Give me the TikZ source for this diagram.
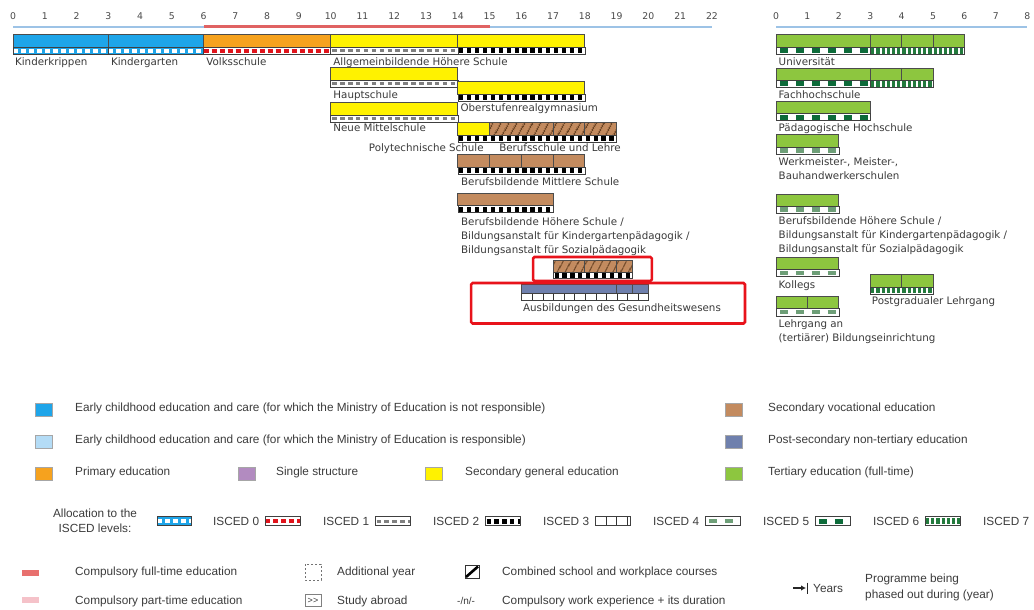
\documentclass[tikz,border=0pt]{standalone}
\usepackage{fontspec}
\setmainfont{Liberation Sans}
\newfontfamily\djv{DejaVu Sans}
\usetikzlibrary{patterns.meta,arrows.meta}
\definecolor{axblue}{HTML}{9DC3E6}
\definecolor{axred}{HTML}{E06262}
\definecolor{ecblue}{HTML}{1EA5E9}
\definecolor{eclight}{HTML}{B4DCF6}
\definecolor{prim}{HTML}{F6A21E}
\definecolor{purp}{HTML}{B28BC0}
\definecolor{ylw}{HTML}{FFF200}
\definecolor{brn}{HTML}{C38B5F}
\definecolor{hatchc}{HTML}{6B4424}
\definecolor{pst}{HTML}{6F80AD}
\definecolor{tert}{HTML}{8DC63F}
\definecolor{iscred}{HTML}{E0141C}
\definecolor{ifive}{HTML}{6E9F78}
\definecolor{isix}{HTML}{0D6B3A}
\definecolor{iseven}{HTML}{237A3D}
\definecolor{labc}{HTML}{3A3A3A}
\definecolor{legc}{HTML}{3C3C3C}
\definecolor{axc}{HTML}{4A4A4A}
\definecolor{boxred}{HTML}{E8131B}
\definecolor{cfull}{HTML}{E8706E}
\definecolor{cpart}{HTML}{F5C2C9}
\tikzset{
  barline/.style={draw=black!70, line width=0.75pt},
  sbord/.style={draw=black!75, line width=0.55pt},
  lab/.style={font=\djv\fontsize{10.3}{14}\selectfont, text=labc, inner sep=0pt, anchor=base west},
  mlab/.style={lab, align=left, anchor=north west},
  axn/.style={font=\djv\fontsize{9.3}{11}\selectfont, text=axc, inner sep=0pt},
  leg/.style={font=\fontsize{11.8}{15}\selectfont, text=legc, inner sep=0pt, anchor=west},
  legsq/.style={draw=black!35, line width=0.4pt, minimum width=17pt, minimum height=13pt, inner sep=0pt},
  redbox/.style={draw=boxred, line width=2.6pt, rounded corners=1.5pt},
}
% strip: x1 x2 y1 y2 bg fg linewidth dashkeys
\newcommand\ZStrip[8]{%
  \fill[#5] (#1,#3) rectangle (#2,#4);
  \begin{scope}\clip (#1,#3) rectangle (#2,#4);
  \draw[#6,line width=#7,#8] (#1,{(#3+#4)/2}) -- (#2,{(#3+#4)/2});\end{scope}
  \draw[sbord] (#1,#3) rectangle (#2,#4);}
\newcommand\ZisA[4]{\ZStrip{#1}{#2}{#3}{#4}{ecblue}{white}{3.8pt}{dash pattern=on 5pt off 3pt}}
\newcommand\ZisB[4]{\ZStrip{#1}{#2}{#3}{#4}{white}{iscred}{4pt}{dash pattern=on 5pt off 3pt}}
\newcommand\ZisC[4]{\ZStrip{#1}{#2}{#3}{#4}{white}{black!50}{3pt}{dash pattern=on 4.5pt off 3.4pt,dash phase=-1.5pt}}
\newcommand\ZisD[4]{\ZStrip{#1}{#2}{#3}{#4}{white}{black}{5pt}{dash pattern=on 4.2pt off 3.7pt,dash phase=-1.5pt}}
\newcommand\ZisE[4]{\ZStrip{#1}{#2}{#3}{#4}{white}{black!80}{9pt}{dash pattern=on 0.7pt off 9.9pt}}
\newcommand\ZisF[4]{\ZStrip{#1}{#2}{#3}{#4}{white}{ifive}{4.4pt}{dash pattern=on 8pt off 7.9pt,dash phase=-4pt}}
\newcommand\ZisG[4]{\ZStrip{#1}{#2}{#3}{#4}{white}{isix}{5pt}{dash pattern=on 8pt off 7.9pt,dash phase=-4pt}}
\newcommand\ZisH[4]{\ZStrip{#1}{#2}{#3}{#4}{white}{iseven}{5.2pt}{dash pattern=on 3.2pt off 2pt,dash phase=-1pt}}
\newcommand\ZBar[5]{\draw[barline,fill=#5] (#1,#3) rectangle (#2,#4);}
\newcommand\ZDiv[3]{\draw[barline] (#1,#2) -- (#1,#3);}
\newcommand\ZHatch[4]{%
  \fill[brn] (#1,#3) rectangle (#2,#4);
  \fill[pattern={Lines[angle=62,distance=6.5pt,line width=1.4pt]}, pattern color=hatchc] (#1,#3) rectangle (#2,#4);
  \draw[barline] (#1,#3) rectangle (#2,#4);}
\begin{document}
\begin{tikzpicture}[x=1pt,y=-1pt]
\useasboundingbox[fill=white] (0,0) rectangle (1034,610);
% ================= left diagram =================
\begin{scope}[shift={(13,0)}, x=31.77pt]
  \foreach \i in {0,...,22} \node[axn] (lnum\i) at (\i,16) {\i};
  \draw[axblue, line width=1.7pt] (0,27) -- (6,27);
  \draw[axred, line width=2.1pt] (6,26.5) -- (15,26.5);
  \draw[axblue, line width=1.7pt] (15,27) -- (22,27);
  % row 1
  \ZBar{0}{3}{34}{47.5}{ecblue} \ZBar{3}{6}{34}{47.5}{ecblue}
  \ZBar{6}{10}{34}{47.5}{prim} \ZBar{10}{14}{34}{47.5}{ylw} \ZBar{14}{18}{34}{47.5}{ylw}
  \ZisA{0}{3}{47.5}{54.5} \ZisA{3}{6}{47.5}{54.5} \ZisB{6}{10}{47.5}{54.5}
  \ZisC{10}{14}{47.5}{54.5} \ZisD{14}{18}{47.5}{54.5}
  \node[lab] (kk) at (0.06,65.5) {Kinderkrippen};
  \node[lab] (kg) at (3.08,65.5) {Kindergarten};
  \node[lab] (vs) at (6.08,65.5) {Volksschule};
  \node[lab] (ahs) at (10.08,65.5) {Allgemeinbildende Höhere Schule};
  % Hauptschule
  \ZBar{10}{14}{67.5}{80}{ylw} \ZisC{10}{14}{80}{87}
  \node[lab] (hs) at (10.08,98.5) {Hauptschule};
  % ORG
  \ZBar{14}{18}{81}{94}{ylw} \ZisD{14}{18}{94}{101}
  \node[lab] (org) at (14.08,111.5) {Oberstufenrealgymnasium};
  % NMS
  \ZBar{10}{14}{102}{115}{ylw} \ZisC{10}{14}{115}{122}
  \node[lab] (nms) at (10.08,131.5) {Neue Mittelschule};
  % Poly / Berufsschule
  \ZBar{14}{15}{122}{135}{ylw} \ZHatch{15}{19}{122}{135}
  \ZDiv{17}{122}{135} \ZDiv{18}{122}{135}
  \ZisD{14}{19}{135}{142}
  \node[lab, anchor=base east] (pts) at (14.82,151.5) {Polytechnische Schule};
  \node[lab] (bsl) at (15.3,151.5) {Berufsschule und Lehre};
  % BMS
  \ZBar{14}{18}{154.5}{167}{brn}
  \ZDiv{15}{154.5}{167} \ZDiv{16}{154.5}{167} \ZDiv{17}{154.5}{167}
  \ZisD{14}{18}{167}{174}
  \node[lab] (bms) at (14.1,185.5) {Berufsbildende Mittlere Schule};
  % BHS
  \ZBar{14}{17}{193.5}{205.5}{brn} \ZisD{14}{17}{205.5}{212.5}
  \node[mlab] (bhs) at (14.1,217) {Berufsbildende Höhere Schule /\\Bildungsanstalt für Kindergartenpädagogik /\\Bildungsanstalt für Sozialpädagogik};
  % red box 1
  \ZHatch{17}{19.5}{260.5}{272} \ZDiv{18}{260.5}{272} \ZDiv{19}{260.5}{272}
  \ZisD{17}{19.5}{272}{278.5}
  \draw[redbox] (16.37,257) rectangle (20.11,281);
  % Gesundheit
  \ZBar{16}{20}{284.5}{293.5}{pst} \ZDiv{19}{284.5}{293.5} \ZDiv{19.5}{284.5}{293.5}
  \ZisE{16}{20}{293.5}{300.5}
  \node[lab] (ges) at (16.05,311) {Ausbildungen des Gesundheitswesens};
  \draw[redbox] (14.42,283) rectangle (23.04,323.5);
\end{scope}
% ================= right diagram =================
\begin{scope}[shift={(776,0)}, x=31.4pt]
  \foreach \i in {0,...,8} \node[axn] (rnum\i) at (\i,16) {\i};
  \draw[axblue, line width=1.7pt] (0,27) -- (8,27);
  % Uni
  \ZBar{0}{6}{34}{47.5}{tert} \ZDiv{3}{34}{47.5} \ZDiv{4}{34}{47.5} \ZDiv{5}{34}{47.5}
  \ZisG{0}{3}{47.5}{54.5} \ZisH{3}{6}{47.5}{54.5}
  \node[lab] (uni) at (0.08,65.5) {Universität};
  % FH
  \ZBar{0}{5}{68}{80.5}{tert} \ZDiv{3}{68}{80.5} \ZDiv{4}{68}{80.5}
  \ZisG{0}{3}{80.5}{87.5} \ZisH{3}{5}{80.5}{87.5}
  \node[lab] (fh) at (0.08,99) {Fachhochschule};
  % PH
  \ZBar{0}{3}{101}{113.5}{tert} \ZisG{0}{3}{113.5}{120.5}
  \node[lab] (ph) at (0.08,131.5) {Pädagogische Hochschule};
  % Werkmeister
  \ZBar{0}{2}{134.5}{147}{tert} \ZisF{0}{2}{147}{154}
  \node[mlab] (wm) at (0.08,157) {Werkmeister-, Meister-,\\Bauhandwerkerschulen};
  % BHS
  \ZBar{0}{2}{194}{206}{tert} \ZisF{0}{2}{206}{213}
  \node[mlab] (rbhs) at (0.08,216.5) {Berufsbildende Höhere Schule /\\Bildungsanstalt für Kindergartenpädagogik /\\Bildungsanstalt für Sozialpädagogik};
  % Kollegs
  \ZBar{0}{2}{257}{269}{tert} \ZisF{0}{2}{269}{276.5}
  \node[lab] (kol) at (0.08,288.5) {Kollegs};
  % Postgradual
  \ZBar{3}{5}{274}{287}{tert} \ZDiv{4}{274}{287} \ZisH{3}{5}{287}{294}
  \node[lab] (pgl) at (3.05,304.5) {Postgradualer Lehrgang};
  % Lehrgang
  \ZBar{0}{2}{296}{308.5}{tert} \ZDiv{1}{296}{308.5} \ZisF{0}{2}{308.5}{316}
  \node[mlab] (lg) at (0.08,319.5) {Lehrgang an\\(tertiärer) Bildungseinrichtung};
\end{scope}
% ================= legend =================
\node[legsq, fill=ecblue] (sq1) at (44,409.5) {};
\node[legsq, fill=eclight] (sq2) at (44,441.5) {};
\node[legsq, fill=prim] (sq3) at (44,473.5) {};
\node[legsq, fill=purp] (sq4) at (246.5,473.5) {};
\node[legsq, fill=ylw] (sq5) at (434,473.5) {};
\node[legsq, fill=brn] (sq6) at (733.5,409.5) {};
\node[legsq, fill=pst] (sq7) at (733.5,441.5) {};
\node[legsq, fill=tert] (sq8) at (733.5,473.5) {};
\node[leg] (t1) at (75,408) {Early childhood education and care (for which the Ministry of Education is not responsible)};
\node[leg] (t2) at (75,440) {Early childhood education and care (for which the Ministry of Education is responsible)};
\node[leg] (t3) at (75,472) {Primary education};
\node[leg] (t4) at (276,472) {Single structure};
\node[leg] (t5) at (465,472) {Secondary general education};
\node[leg] (t6) at (768,408) {Secondary vocational education};
\node[leg] (t7) at (768,440) {Post-secondary non-tertiary education};
\node[leg] (t8) at (768,472) {Tertiary education (full-time)};
% ISCED row
\node[leg, align=center, anchor=center] (alloc) at (95,521) {Allocation to the\\ISCED levels:};
\ZisA{157}{191}{516.5}{525.5}
\ZisB{265}{300}{516.5}{525.5}
\ZisC{375}{410}{516.5}{525.5}
\ZisD{485}{520}{516.5}{525.5}
\ZisE{595}{630}{516.5}{525.5}
\ZisF{705}{740}{516.5}{525.5}
\ZisG{815}{850}{516.5}{525.5}
\ZisH{925}{960}{516.5}{525.5}
\foreach \k/\xx in {0/213,1/323,2/433,3/543,4/653,5/763,6/873,7/983}
  \node[leg] (isc\k) at (\xx,521) {ISCED \k};
% bottom rows
\draw[cfull, line width=6pt] (22,573) -- (39,573);
\draw[cpart, line width=6pt] (22,600) -- (39,600);
\node[leg] (cf) at (75,572) {Compulsory full-time education};
\node[leg] (cp) at (75,601) {Compulsory part-time education};
\draw[black!55, line width=0.9pt, dash pattern=on 2pt off 2pt] (305,564) rectangle (321,580);
\node[leg] (ay) at (337,572) {Additional year};
\node[draw=black!50, line width=0.6pt, inner sep=0pt, minimum width=16pt, minimum height=12pt, font=\fontsize{9}{9}\selectfont, text=legc] (sab) at (313,600.5) {>{}>};
\node[leg] (sa) at (337,601) {Study abroad};
\draw[black!80, line width=1pt] (465,565.5) rectangle (479,578);
\draw[black, line width=2.6pt] (466,577) -- (478,566.5);
\node[leg] (cs) at (502,572) {Combined school and workplace courses};
\node[leg, font=\fontsize{10}{12}\selectfont] (nn) at (457,601) {-/n/-};
\node[leg] (cw) at (502,601) {Compulsory work experience + its duration};
\coordinate (arA) at (793,588);
\coordinate (arB) at (806,588);
\draw[-{Latex[length=5pt,width=5.5pt]}, line width=1.3pt, black!85] (arA) -- (arB);
\draw[black!85, line width=1.6pt] (807.5,582.5) -- (807.5,593.5);
\node[leg] (yr) at (813,588) {Years};
\node[leg, align=left, font=\fontsize{11.8}{16}\selectfont] (pb) at (865,587) {Programme being\\phased out during (year)};
\end{tikzpicture}
\end{document}
